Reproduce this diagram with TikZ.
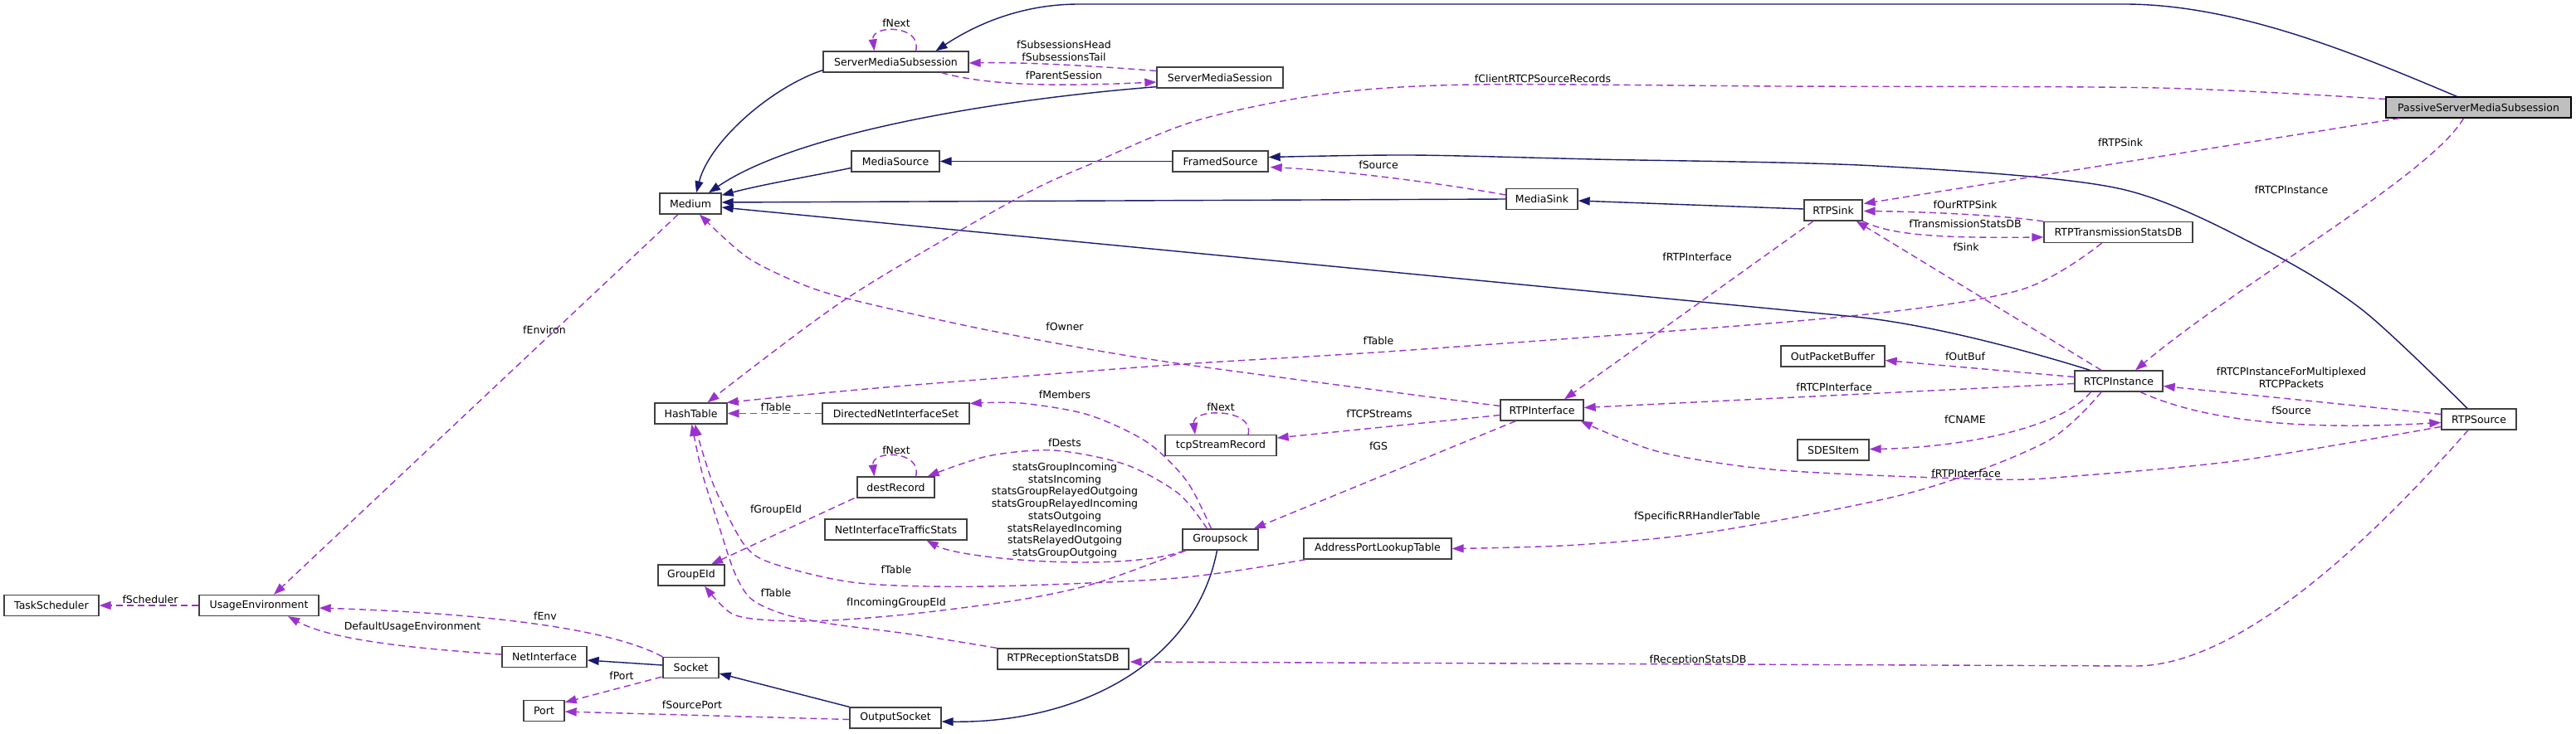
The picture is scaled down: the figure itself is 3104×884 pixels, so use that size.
\documentclass[tikz,border=0pt]{standalone}
\usepackage{fontspec}
\setmainfont{DejaVu Sans}
\usetikzlibrary{arrows.meta,calc}
\definecolor{inhc}{RGB}{25,25,112}
\definecolor{usec}{RGB}{154,50,205}
\definecolor{boxc}{RGB}{64,64,64}
\definecolor{grayfill}{RGB}{191,191,191}
\tikzset{
  cls/.style={draw=boxc, line width=1.3pt, minimum height=25pt, inner sep=0pt, fill=white, font=\fontsize{12.5}{14}\selectfont},
  inh/.style={draw=inhc, line width=1.4pt, -{Triangle[length=14pt,width=10pt]}},
  use/.style={draw=usec, line width=1.4pt, dash pattern=on 8pt off 5pt, -{Triangle[length=14pt,width=10pt]}},
  lbl/.style={font=\fontsize{12.5}{14.7}\selectfont, inner sep=0pt, align=center},
}
\begin{document}
\begin{tikzpicture}[x=1pt,y=-1pt]
\useasboundingbox (0,0) rectangle (3104,884);
% classes
\node[cls, minimum width=114] (TaskScheduler) at (62,730) {TaskScheduler};
\node[cls, minimum width=144] (UsageEnvironment) at (312,730) {UsageEnvironment};
\node[cls, minimum width=102] (NetInterface) at (656,792) {NetInterface};
\node[cls, minimum width=67] (Socket) at (832.5,805) {Socket};
\node[cls, minimum width=49] (Port) at (655.5,857) {Port};
\node[cls, minimum width=80] (GroupEId) at (833,693.5) {GroupEId};
\node[cls, minimum width=87] (HashTable) at (832.5,498.5) {HashTable};
\node[cls, minimum width=74] (Medium) at (832,245.5) {Medium};
\node[cls, minimum width=175] (SMS) at (1079.5,74.5) {ServerMediaSubsession};
\node[cls, minimum width=106] (MediaSource) at (1079,194.5) {MediaSource};
\node[cls, minimum width=177] (DirectedNetInterfaceSet) at (1079.5,498.5) {DirectedNetInterfaceSet};
\node[cls, minimum width=93] (destRecord) at (1079.5,587.5) {destRecord};
\node[cls, minimum width=171] (NetInterfaceTrafficStats) at (1079.5,638.5) {NetInterfaceTrafficStats};
\node[cls, minimum width=158] (RTPReceptionStatsDB) at (1281,794.5) {RTPReceptionStatsDB};
\node[cls, minimum width=110] (OutputSocket) at (1079,865.5) {OutputSocket};
\node[cls, minimum width=152] (SMSession) at (1470,93.5) {ServerMediaSession};
\node[cls, minimum width=115] (FramedSource) at (1470.5,194.5) {FramedSource};
\node[cls, minimum width=134] (tcpStreamRecord) at (1471,537) {tcpStreamRecord};
\node[cls, minimum width=91] (Groupsock) at (1470.5,650.5) {Groupsock};
\node[cls, minimum width=178] (AddressPortLookupTable) at (1660,661.5) {AddressPortLookupTable};
\node[cls, minimum width=86] (MediaSink) at (1858,240) {MediaSink};
\node[cls, minimum width=100] (RTPInterface) at (1858,494.5) {RTPInterface};
\node[cls, minimum width=70] (RTPSink) at (2209,253.5) {RTPSink};
\node[cls, minimum width=125] (OutPacketBuffer) at (2208.5,429.5) {OutPacketBuffer};
\node[cls, minimum width=86] (SDESItem) at (2209,542.5) {SDESItem};
\node[cls, minimum width=179] (RTPTransmissionStatsDB) at (2552.5,280) {RTPTransmissionStatsDB};
\node[cls, minimum width=106] (RTCPInstance) at (2553,459.5) {RTCPInstance};
\node[cls, minimum width=223, fill=grayfill, draw=black] (PSMS) at (2986.5,129.5) {PassiveServerMediaSubsession};
\node[cls, minimum width=90] (RTPSource) at (2987,505.5) {RTPSource};

% inheritance
\draw[inh] ($(SMS.south west)+(0,-3)$) .. controls (930,105) and (855,170) .. ($(Medium.north)+(7,0)$);
\draw[inh] ($(SMSession.south west)+(0,-2)$) .. controls (1200,120) and (960,160) .. ($(Medium.north)+(22,0)$);
\draw[inh] ($(MediaSource.west)+(0,8)$) .. controls (980,212) and (920,222) .. ($(Medium.north east)+(0,3)$);
\draw[inh] (FramedSource.west) -- (MediaSource.east);
\draw[inh] (MediaSink.west) -- ($(Medium.east)+(0,-1.5)$);
\draw[inh] ($(RTCPInstance.north west)+(19,0)$) .. controls (2470,431) and (2336,392) .. (2236,382) -- ($(Medium.east)+(0,4.5)$);
\draw[inh] ($(RTPSink.west)+(0,-1.5)$) -- ($(MediaSink.east)+(0,2)$);
\draw[inh] ($(PSMS.north)+(-26,0)$) .. controls (2850,70) and (2700,5) .. (2560,5) -- (1300,5) .. controls (1230,5) and (1175,30) .. ($(SMS.north)+(48,0)$);
\draw[inh] plot[smooth] coordinates {($(RTPSource.north)+(-14,0)$) (2847,374) (2727,300) (2552,227) (2260,200) (1920,192) (1700,187) ($(FramedSource.east)+(0,-5)$)};
\draw[inh] ($(Groupsock.south)+(-4,0)$) .. controls (1440,800) and (1300,872) .. ($(OutputSocket.east)+(0,4.5)$);
\draw[inh] (OutputSocket.north west) -- ($(Socket.east)+(0,7)$);
\draw[inh] ($(Socket.west)+(0,-3)$) -- ($(NetInterface.east)+(0,4)$);

% usage
\draw[use] ($(Medium.south)+(-15,0)$) -- ($(UsageEnvironment.north)+(18,0)$);
\draw[use] (UsageEnvironment.west) -- (TaskScheduler.east);
\draw[use] ($(NetInterface.west)+(0,-3)$) .. controls (500,782) and (400,772) .. ($(UsageEnvironment.south)+(35,0)$);
\draw[use] (Socket.north west) .. controls (740,760) and (600,740) .. ($(UsageEnvironment.east)+(0,3)$);
\draw[use] ($(Socket.south west)+(-1,-2)$) -- ($(Port.north east)+(0,3)$);
\draw[use] ($(OutputSocket.west)+(0,2)$) -- ($(Port.east)+(0,1)$);
\draw[use] ($(destRecord.north)+(24,0)$) .. controls +(8,-32) and +(-4,-32) .. ($(destRecord.north)+(-26,0)$);
\draw[use] ($(destRecord.south west)+(-3,0)$) -- ($(GroupEId.north)+(24,0)$);
\draw[use] ($(tcpStreamRecord.north)+(33,0)$) .. controls +(8,-32) and +(-4,-32) .. ($(tcpStreamRecord.north)+(-31,0)$);
\draw[use] ($(SMS.north)+(24,0)$) .. controls +(8,-32) and +(-4,-32) .. ($(SMS.north)+(-26,0)$);
\draw[use] ($(SMSession.west)+(0,-8)$) .. controls (1300,78) and (1230,75) .. ($(SMS.east)+(0,1.5)$);
\draw[use] ($(SMS.south)+(55,0)$) .. controls (1200,106) and (1300,103) .. ($(SMSession.west)+(0,5.5)$);
\draw[use] plot[smooth] coordinates {($(PSMS.west)+(0,-10)$) (2600,106) (2150,104) (1774,102) (1600,113) (1443,145) (1316,197) (1224,240) (1020,360) ($(HashTable.north)+(20,0)$)};
\draw[use] ($(PSMS.south west)+(17,0)$) -- ($(RTPSink.east)+(1,-8)$);
\draw[use] ($(PSMS.south)+(-18,0)$) .. controls (2930,210) and (2700,340) .. ($(RTCPInstance.north)+(20,0)$);
\draw[use] ($(RTPSink.south)+(-24,0)$) -- ($(RTPInterface.north)+(27,0)$);
\draw[use] (RTPTransmissionStatsDB.north west) .. controls (2400,258) and (2300,255) .. ($(RTPSink.east)+(1,1)$);
\draw[use] (RTPSink.south east) .. controls (2280,285) and (2350,287) .. ($(RTPTransmissionStatsDB.west)+(0,6)$);
\draw[use] ($(RTCPInstance.north)+(-21,0)$) -- ($(RTPSink.south east)+(-8,0)$);
\draw[use] plot[smooth] coordinates {($(RTPTransmissionStatsDB.south)+(-20,0)$) (2433,350) (2210,383) (1700,422) (1411,440) (1067,467) ($(HashTable.north east)+(-1,0)$)};
\draw[use] plot[smooth] coordinates {($(RTPInterface.west)+(0,-5)$) (1411,437) (1200,400) (1033,363) (967,343) (900,310) ($(Medium.south)+(11,0)$)};
\draw[use] ($(RTPInterface.west)+(0,6)$) -- ($(tcpStreamRecord.east)+(0,-9)$);
\draw[use] ($(RTPInterface.south west)+(19,0)$) -- ($(Groupsock.north east)+(-6,0)$);
\draw[use] ($(RTCPInstance.west)+(0,3)$) -- ($(RTPInterface.east)+(0,-3)$);
\draw[use] ($(RTCPInstance.west)+(0,-5)$) -- ($(OutPacketBuffer.east)+(0,5)$);
\draw[use] ($(RTCPInstance.south west)+(20,0)$) .. controls (2480,520) and (2350,540) .. ($(SDESItem.east)+(0,-1)$);
\draw[use] plot[smooth] coordinates {($(RTCPInstance.south)+(-21,0)$) (2465,533) (2306,593) (2070,640) (1900,657) (AddressPortLookupTable.east)};
\draw[use] ($(RTPSource.west)+(0,-6)$) -- ($(RTCPInstance.east)+(0,6)$);
\draw[use] ($(RTCPInstance.south)+(26,0)$) .. controls (2650,505) and (2760,520) .. ($(RTPSource.west)+(0,4)$);
\draw[use] plot[smooth] coordinates {($(RTPSource.west)+(0,9)$) (2700,555) (2500,574) (2402,578) (2146,567) (2000,545) ($(RTPInterface.south east)+(-4,0)$)};
\draw[use] ($(RTPSource.south)+(-13,0)$) .. controls (2862,646) and (2700,803) .. (2573,803) -- ($(RTPReceptionStatsDB.east)+(1,3.5)$);
\draw[use] plot[smooth] coordinates {($(Groupsock.north)+(-11,0)$) (1430,580) (1382,533) (1311,500) (1230,486) ($(DirectedNetInterfaceSet.east)+(0,-12)$)};
\draw[use] plot[smooth] coordinates {($(Groupsock.north)+(-16,0)$) (1420,595) (1356,560) (1270,543) (1190,550) ($(destRecord.north east)+(-9,0)$)};
\draw[use] ($(Groupsock.south west)+(3,0)$) .. controls (1360,690) and (1160,675) .. ($(NetInterfaceTrafficStats.south)+(37,0)$);
\draw[use] (DirectedNetInterfaceSet.west) -- (HashTable.east);
\draw[use] plot[smooth] coordinates {($(AddressPortLookupTable.south west)+(3,0)$) (1418,697) (1188,707) (1035,703) (933,680) (897,657) (862,590) (845,540) ($(HashTable.south)+(5,0)$)};
\draw[use] plot[smooth] coordinates {(RTPReceptionStatsDB.north west) (1100,765) (1000,752) (943,740) (905,722) (885,690) (865,630) (846,570) ($(HashTable.south)+(1,0)$)};
\draw[use] plot[smooth] coordinates {($(Groupsock.south west)+(5,0)$) (1321,703) (1230,723) (1100,740) (1000,748) (930,748) (882,740) ($(GroupEId.south)+(16,0)$)};
\draw[use] ($(MediaSink.west)+(0,-5)$) .. controls (1700,215) and (1600,205) .. ($(FramedSource.east)+(2,7)$);

% labels
\node[lbl] (l1) at (1080,28) {fNext};
\node[lbl] (l2) at (1282,61) {fSubsessionsHead\\fSubsessionsTail};
\node[lbl] (l3) at (1282,91) {fParentSession};
\node[lbl] (l4) at (1859,95) {fClientRTCPSourceRecords};
\node[lbl] (l5) at (2555,172) {fRTPSink};
\node[lbl] (l6) at (1661,199) {fSource};
\node[lbl] (l7) at (2368,247) {fOurRTPSink};
\node[lbl] (l8) at (2368,270) {fTransmissionStatsDB};
\node[lbl] (l9) at (2761,229) {fRTCPInstance};
\node[lbl] (l10) at (2369,298) {fSink};
\node[lbl] (l11) at (2045,310) {fRTPInterface};
\node[lbl] (l12) at (1283,394) {fOwner};
\node[lbl] (l13) at (1661,411) {fTable};
\node[lbl] (l14) at (2368,430) {fOutBuf};
\node[lbl] (l15) at (2210,467) {fRTCPInterface};
\node[lbl] (l16) at (2761,455) {fRTCPInstanceForMultiplexed\\RTCPPackets};
\node[lbl] (l17) at (2761,495) {fSource};
\node[lbl] (l18) at (1471,491) {fNext};
\node[lbl] (l19) at (1662,499) {fTCPStreams};
\node[lbl] (l20) at (1283,476) {fMembers};
\node[lbl] (l21) at (935,491) {fTable};
\node[lbl] (l22) at (1283,534) {fDests};
\node[lbl] (l23) at (1661,538) {fGS};
\node[lbl] (l24) at (1080,543) {fNext};
\node[lbl] (l25) at (1283,615.5) {statsGroupIncoming\\statsIncoming\\statsGroupRelayedOutgoing\\statsGroupRelayedIncoming\\statsOutgoing\\statsRelayedIncoming\\statsRelayedOutgoing\\statsGroupOutgoing};
\node[lbl] (l26) at (2368,506) {fCNAME};
\node[lbl] (l27) at (2369,571) {fRTPInterface};
\node[lbl] (l28) at (935,615) {fGroupEId};
\node[lbl] (l29) at (2045,623) {fSpecificRRHandlerTable};
\node[lbl] (l30) at (1080,687) {fTable};
\node[lbl] (l31) at (935,715) {fTable};
\node[lbl] (l32) at (1080,727) {fIncomingGroupEId};
\node[lbl] (l33) at (181,723) {fScheduler};
\node[lbl] (l34) at (657,743) {fEnv};
\node[lbl] (l35) at (497,756) {DefaultUsageEnvironment};
\node[lbl] (l36) at (749,815) {fPort};
\node[lbl] (l37) at (834,850) {fSourcePort};
\node[lbl] (l38) at (2046,796) {fReceptionStatsDB};
\node[lbl] (l39) at (656,398) {fEnviron};
\end{tikzpicture}
\end{document}
